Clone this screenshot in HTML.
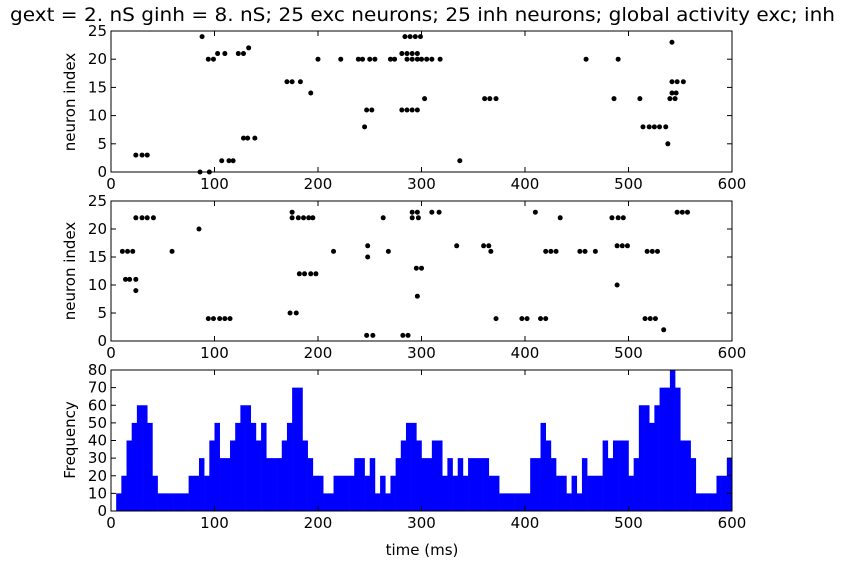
<!DOCTYPE html>
<html><head><meta charset="utf-8"><style>
body{margin:0;background:#fff;}
svg{display:block;font-family:"DejaVu Sans","Liberation Sans",sans-serif;}
</style></head><body>
<svg id="fig" width="843" height="570" xmlns="http://www.w3.org/2000/svg">
<rect width="843" height="570" fill="#fff"/>
<text x="10" y="21" font-size="19" textLength="825" lengthAdjust="spacingAndGlyphs">gext = 2. nS ginh = 8. nS; 25 exc neurons; 25 inh neurons; global activity exc; inh</text>
<text x="422" y="555" font-size="15" text-anchor="middle">time (ms)</text>
<text transform="translate(75,102) rotate(-90)" font-size="15" text-anchor="middle">neuron index</text>
<text transform="translate(75,271) rotate(-90)" font-size="15" text-anchor="middle">neuron index</text>
<text transform="translate(75,440) rotate(-90)" font-size="15" text-anchor="middle">Frequency</text>
</svg>
<script>
const excTimes=[24,30,35,86,95,88,284,289,294,299,94,99,200,222,239,243,250,255,270,274,286,291,296,300,305,310,318,459,490,103,110,123,128,281,286,291,296,133,170,175,183,542,547,553,193,542,546,247,252,281,286,291,296,245,514,520,525,530,536,303,361,366,372,486,511,540,545,128,132,139,107,114,118,337,542,538];
const excIdx=[3,3,3,0,0,24,24,24,24,24,20,20,20,20,20,20,20,20,20,20,20,20,20,20,20,20,20,20,20,21,21,21,21,21,21,21,21,22,16,16,16,16,16,16,14,14,14,11,11,11,11,11,11,8,8,8,8,8,8,13,13,13,13,13,13,13,13,6,6,6,2,2,2,2,23,5];
const inhTimes=[175,291,296,310,317,410,547,552,557,24,30,35,41,175,181,186,191,195,263,291,297,434,484,490,495,85,11,16,21,59,215,268,367,420,425,430,453,458,468,518,523,528,248,334,360,365,489,494,499,248,295,300,182,187,193,198,14,18,24,24,296,489,173,179,94,99,105,110,115,372,397,402,415,420,516,521,526,247,253,282,287,534];
const inhIdx=[23,23,23,23,23,23,23,23,23,22,22,22,22,22,22,22,22,22,22,22,22,22,22,22,22,20,16,16,16,16,16,16,16,16,16,16,16,16,16,16,16,16,17,17,17,17,17,17,17,15,13,13,12,12,12,12,11,11,11,9,8,10,5,5,4,4,4,4,4,4,4,4,4,4,4,4,4,1,1,1,1,2];
const freqBins=[0,5,10,15,20,25,30,35,40,45,50,55,60,65,70,75,80,85,90,95,100,105,110,115,120,125,130,135,140,145,150,155,160,165,170,175,180,185,190,195,200,205,210,215,220,225,230,235,240,245,250,255,260,265,270,275,280,285,290,295,300,305,310,315,320,325,330,335,340,345,350,355,360,365,370,375,380,385,390,395,400,405,410,415,420,425,430,435,440,445,450,455,460,465,470,475,480,485,490,495,500,505,510,515,520,525,530,535,540,545,550,555,560,565,570,575,580,585,590,595];
const freqVals=[0,10,20,40,50,60,60,50,20,10,10,10,10,10,10,20,20,30,20,40,50,30,30,40,50,60,60,50,40,50,30,30,30,40,50,70,70,40,30,20,20,10,10,20,20,20,20,30,30,20,30,10,20,10,20,30,40,50,50,40,30,30,40,40,20,30,20,30,20,30,30,30,30,20,20,10,10,10,10,10,10,30,30,50,40,30,20,20,10,20,10,30,20,20,20,40,30,40,40,40,20,30,60,60,50,60,70,70,80,70,40,40,30,10,10,10,10,20,20,30];
const xTicks=[0,100,200,300,400,500,600];
const rasterTicks=[0,5,10,15,20,25];
const freqTicks=[0,10,20,30,40,50,60,70,80];

const NS='http://www.w3.org/2000/svg';
const svg=document.getElementById('fig');
const L=111,R=732;
const xs=t=>L+(t/600)*(R-L);
function mk(tag,attrs,parent){const e=document.createElementNS(NS,tag);for(const k in attrs)e.setAttribute(k,attrs[k]);(parent||svg).appendChild(e);return e;}

function panel(name,top,bot,ymax,yTicks,drawFn){
  const g=mk('g',{});
  
  
  const ys=v=>bot-(v/ymax)*(bot-top);
  drawFn(g,ys);
  mk('rect',{x:L,y:top,width:R-L,height:bot-top,fill:'none',stroke:'#000','stroke-width':1},g);
  xTicks.forEach(t=>{
    const x=xs(t);
    mk('line',{x1:x,x2:x,y1:bot,y2:bot-5,stroke:'#000'},g);
    mk('line',{x1:x,x2:x,y1:top,y2:top+5,stroke:'#000'},g);
    const tx=mk('text',{x:x,y:bot+17,'font-size':15,'text-anchor':'middle'},g);
    tx.textContent=t;
    
    
  });
  yTicks.forEach(v=>{
    const y=ys(v);
    mk('line',{x1:L,x2:L+5,y1:y,y2:y,stroke:'#000'},g);
    mk('line',{x1:R,x2:R-5,y1:y,y2:y,stroke:'#000'},g);
    const tx=mk('text',{x:L-4,y:y+5,'font-size':15,'text-anchor':'end'},g);
    tx.textContent=v;
    
    
  });
}

function raster(times,idx){
  return (g,ys)=>{
    times.forEach((t,i)=>{
      const c=mk('circle',{cx:xs(t),cy:ys(idx[i]),r:2.5,fill:'#000'},g);
      
      
    });
  };
}

panel('exc-raster-panel',31,172,25,rasterTicks,raster(excTimes,excIdx));
panel('inh-raster-panel',201,341,25,rasterTicks,raster(inhTimes,inhIdx));
panel('frequency-panel',370,511,80,freqTicks,(g,ys)=>{
  freqBins.forEach((b,i)=>{
    const x0=xs(b),x1=xs(b+5);
    const r=mk('rect',{x:x0,y:ys(freqVals[i]),width:x1-x0+0.3,height:ys(0)-ys(freqVals[i]),fill:'#0000ff'},g);
    
    
  });
});
</script>
</body></html>
